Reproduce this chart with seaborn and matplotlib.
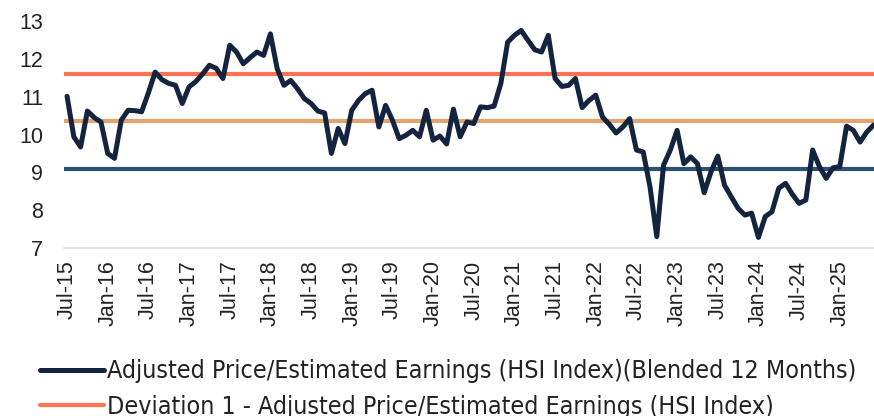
import numpy as np
import pandas as pd
import matplotlib
matplotlib.use("Agg")
import matplotlib.pyplot as plt
from matplotlib import font_manager
import seaborn as sns

# monthly values, Jul-15 .. Jun-25
months = pd.date_range("2015-07-01", "2025-06-01", freq="MS")
pe_values = [
    11.01, 9.94, 9.67, 10.62, 10.45, 10.33, 9.50, 9.37, 10.38, 10.64, 10.63, 10.60,
    11.10, 11.65, 11.45, 11.35, 11.30, 10.82, 11.26, 11.40, 11.60, 11.83, 11.75, 11.48,
    12.36, 12.18, 11.87, 12.03, 12.18, 12.09, 12.66, 11.74, 11.30, 11.43, 11.21, 10.95,
    10.82, 10.62, 10.57, 9.50, 10.16, 9.76, 10.64, 10.90, 11.08, 11.17, 10.20, 10.77,
    10.38, 9.89, 9.98, 10.11, 9.94, 10.64, 9.85, 9.96, 9.75, 10.67, 9.94, 10.33,
    10.29, 10.73, 10.71, 10.75, 11.35, 12.44, 12.62, 12.75, 12.49, 12.24, 12.18, 12.62,
    11.48, 11.27, 11.30, 11.48, 10.71, 10.90, 11.04, 10.46, 10.27, 10.04, 10.20, 10.42,
    9.59, 9.54, 8.62, 7.30, 9.19, 9.59, 10.11, 9.23, 9.41, 9.23, 8.46, 9.01,
    9.43, 8.66, 8.35, 8.05, 7.87, 7.92, 7.28, 7.83, 7.96, 8.58, 8.71, 8.42,
    8.18, 8.27, 9.59, 9.15, 8.84, 9.12, 9.15, 10.22, 10.11, 9.80, 10.07, 10.25,
]
band_values = [11.61, 10.35, 9.08]
band_labels = [
    "Deviation 1 - Adjusted Price/Estimated Earnings (HSI Index)",
    "_nolegend_",
    "_nolegend_",
]
series_label = "Adjusted Price/Estimated Earnings (HSI Index)(Blended 12 Months)"
tick_labels = [d.strftime("%b-%y") for d in months[::6]]

df = pd.DataFrame({"idx": np.arange(len(pe_values)), "pe": pe_values})

sns.set_style("white")
plt.rcParams["font.family"] = ["Liberation Sans", "DejaVu Sans"]

# narrow font for the legend if there is one
names = {f.name for f in font_manager.fontManager.ttflist}
cond = [f for f in font_manager.fontManager.ttflist
        if f.name == "DejaVu Sans" and f.stretch == "condensed"]
if "Liberation Sans Narrow" in names:
    leg_prop = {"family": "Liberation Sans Narrow", "size": 19}
elif cond:
    leg_prop = {"family": "DejaVu Sans", "stretch": "condensed", "size": 17.9}
else:
    leg_prop = {"family": "Liberation Sans", "size": 17}

fig = plt.figure(figsize=(8.74, 4.16), dpi=100)
ax = fig.add_axes([64 / 874, 168 / 416, 810 / 874, 227 / 416])

band_colors = ["#ff7352", "#dfa46f", "#2b5173"]
for val, lab, col in zip(band_values, band_labels, band_colors):
    ax.axhline(val, color=col, lw=3.0, solid_capstyle="round", label=lab, zorder=1)

sns.lineplot(data=df, x="idx", y="pe", ax=ax, color="#14243f", lw=3.6,
             label=series_label, zorder=3)

ax.set_xlim(-0.45, 119.05)
ax.set_ylim(7, 13)
ax.set_yticks(range(7, 14))
ax.set_xticks(df["idx"][::6])
ax.set_xticklabels(tick_labels, rotation=90)
ax.set_xlabel("")
ax.set_ylabel("")
ax.tick_params(axis="y", length=0, pad=15, labelsize=15.5, colors="#222222")
ax.tick_params(axis="x", length=0, pad=9, labelsize=15.5, colors="#222222")
for s in ["top", "right", "left"]:
    ax.spines[s].set_visible(False)
ax.spines["bottom"].set_color("#d9d9d9")
ax.spines["bottom"].set_linewidth(1.2)

handles, labels = ax.get_legend_handles_labels()
order = [labels.index(series_label), labels.index(band_labels[0])]
ax.legend_.remove()
fig.legend([handles[i] for i in order], [labels[i] for i in order],
           loc="upper left", bbox_to_anchor=(0.02, 0.19), frameon=False,
           handlelength=2.6, handletextpad=0.1, labelspacing=0.45,
           prop=leg_prop, labelcolor="#222222")

fig.savefig("out.png", dpi=100)
